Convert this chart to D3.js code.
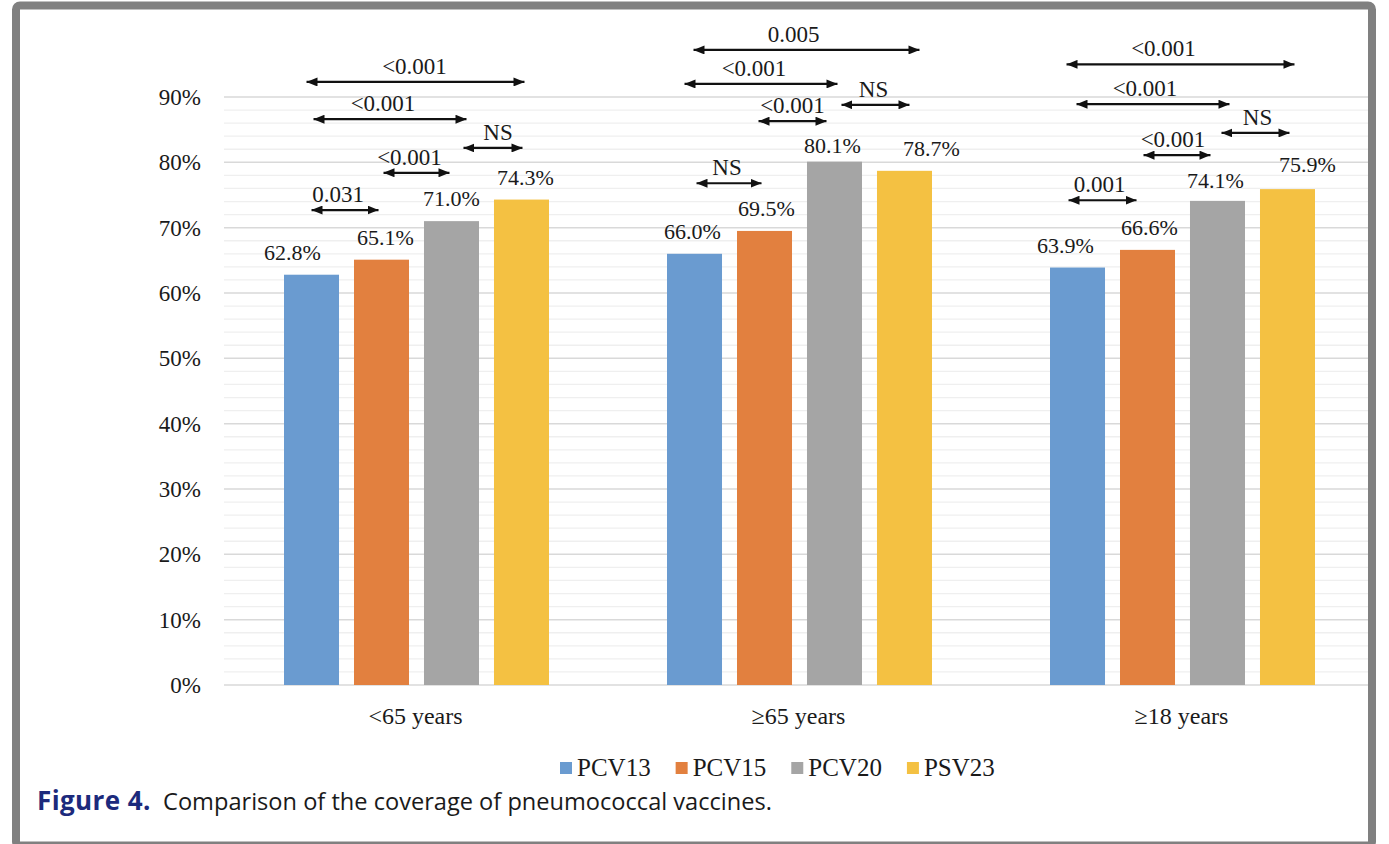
<!DOCTYPE html>
<html>
<head>
<meta charset="utf-8">
<script src="https://cdn.jsdelivr.net/npm/d3@7"></script>
<style>
  html, body { margin: 0; padding: 0; background: #fff; }
  svg { display: block; }
  text { font-family: "Liberation Serif", "Times New Roman", serif; fill: #1a1a1a; }
</style>
</head>
<body>
<svg id="chart" width="1389" height="844"></svg>
<script>
// Age groups on the x axis
const groups = ["<65 years", "\u226565 years", "\u226518 years"];
// Vaccines (one bar per vaccine in each group)
const vaccines = ["PCV13", "PCV15", "PCV20", "PSV23"];
// Coverage (%) per group, in vaccine order
const coverageU65 = [62.8, 65.1, 71.0, 74.3];
const coverage65  = [66.0, 69.5, 80.1, 78.7];
const coverage18  = [63.9, 66.6, 74.1, 75.9];
// Y axis ticks (%)
const yTicks = [0, 10, 20, 30, 40, 50, 60, 70, 80, 90];
// Pairwise comparisons: two vaccines, p-value text, bracket height (%)
const compU65 = [
  ["PCV13", "PSV23", "<0.001", 92.3],
  ["PCV13", "PCV20", "<0.001", 86.6],
  ["PCV20", "PSV23", "NS", 82.2],
  ["PCV15", "PCV20", "<0.001", 78.4],
  ["PCV13", "PCV15", "0.031", 72.7]
];
const comp65 = [
  ["PCV13", "PSV23", "0.005", 97.2],
  ["PCV13", "PCV20", "<0.001", 92.0],
  ["PCV20", "PSV23", "NS", 88.8],
  ["PCV15", "PCV20", "<0.001", 86.3],
  ["PCV13", "PCV15", "NS", 76.8]
];
const comp18 = [
  ["PCV13", "PSV23", "<0.001", 95.0],
  ["PCV13", "PCV20", "<0.001", 88.9],
  ["PCV20", "PSV23", "NS", 84.5],
  ["PCV15", "PCV20", "<0.001", 81.1],
  ["PCV13", "PCV15", "0.001", 74.2]
];

const colors = { PCV13: "#6a9bd0", PCV15: "#e2803f", PCV20: "#a5a5a5", PSV23: "#f4c142" };

const coverage = [coverageU65, coverage65, coverage18];
const comparisons = [compU65, comp65, comp18];

// Hand-placed tweaks for the annotation layer (pixels):
// arrow ends [start dx, end dx, label dx] per comparison, same order as above
const arrowNudge = [
  [[-5, 3, -1], [2, 15, -7], [12, 1, 5], [2, -2, -7], [0, -3, -7]],
  [[-1, 15, -13], [-10, 3, -7], [7, 5, -2], [-6, -8, 0], [2, -3, -2]],
  [[-11, 7, -17], [-1, 12, -8], [4, 2, 2], [-4, -7, -4], [-9, -11, -3]]
];
// value-label offsets [dx, dy] per bar
const labelNudge = [
  [[-19, 0], [4, 0], [0, 0], [4, 0]],
  [[-2, 0], [2, 0], [-2, 6], [27, 0]],
  [[-12, 0], [2, 0], [-2, 2], [20, -2]]
];

const svg = d3.select("#chart");

// Outer frame
svg.append("rect")
  .attr("x", 16).attr("y", 5.5)
  .attr("width", 1356).attr("height", 840)
  .attr("rx", 4)
  .attr("fill", "#fff")
  .attr("stroke", "#808080")
  .attr("stroke-width", 8);

const plot = { left: 224, right: 1373, top: 97, bottom: 685 };

const y = d3.scaleLinear().domain([0, 90]).range([plot.bottom, plot.top]);
const x0 = d3.scaleBand().domain(groups).range([plot.left, plot.right]);
const x1 = d3.scaleBand().domain(vaccines).range([60, 325]).paddingInner(0.214);

// Gridlines: minor every 2%, major at each tick
const grid = svg.append("g");
grid.selectAll("line.minor")
  .data(d3.range(0, 91, 2).filter(v => v % 10 !== 0))
  .join("line")
  .attr("class", "minor")
  .attr("x1", plot.left).attr("x2", 1368)
  .attr("y1", d => y(d)).attr("y2", d => y(d))
  .attr("stroke", "#efefef").attr("stroke-width", 1.3);
grid.selectAll("line.major")
  .data(yTicks)
  .join("line")
  .attr("class", "major")
  .attr("x1", plot.left).attr("x2", 1368)
  .attr("y1", d => y(d)).attr("y2", d => y(d))
  .attr("stroke", "#d9d9d9").attr("stroke-width", 1.5);

// Y axis labels
const yAxis = d3.axisLeft(y).tickValues(yTicks).tickFormat(d => d + "%").tickSize(0).tickPadding(0);
const yg = svg.append("g").attr("transform", "translate(201,0)").call(yAxis);
yg.select(".domain").remove();
yg.selectAll("text")
  .attr("font-family", "'Liberation Serif', serif")
  .attr("font-size", 23)
  .attr("fill", "#1a1a1a")
  .attr("dy", "0.33em");

// X axis labels
const xAxis = d3.axisBottom(x0).tickSize(0).tickPadding(0);
const xg = svg.append("g").attr("transform", `translate(0,${plot.bottom})`).call(xAxis);
xg.select(".domain").remove();
xg.selectAll("text")
  .attr("font-family", "'Liberation Serif', serif")
  .attr("font-size", 24)
  .attr("fill", "#1a1a1a")
  .attr("y", 39).attr("dy", 0);

// Bars and value labels
const barData = groups.flatMap((g, gi) =>
  vaccines.map((v, vi) => ({ group: g, vaccine: v, value: coverage[gi][vi], nudge: labelNudge[gi][vi] })));

const bars = svg.append("g");
bars.selectAll("rect")
  .data(barData)
  .join("rect")
  .attr("x", d => x0(d.group) + x1(d.vaccine))
  .attr("y", d => y(d.value))
  .attr("width", x1.bandwidth())
  .attr("height", d => y(0) - y(d.value))
  .attr("fill", d => colors[d.vaccine]);

bars.selectAll("text")
  .data(barData)
  .join("text")
  .attr("x", d => x0(d.group) + x1(d.vaccine) + x1.bandwidth() / 2 + d.nudge[0])
  .attr("y", d => y(d.value) - 15 + d.nudge[1])
  .attr("text-anchor", "middle")
  .attr("font-size", 22)
  .text(d => d.value.toFixed(1) + "%");

// Double-headed arrows with p-values
const defs = svg.append("defs");
["start", "end"].forEach(k => {
  defs.append("marker")
    .attr("id", "arrow-" + k)
    .attr("viewBox", "0 0 11 9")
    .attr("refX", k === "end" ? 11 : 0).attr("refY", 4.5)
    .attr("markerWidth", 11).attr("markerHeight", 9)
    .attr("markerUnits", "userSpaceOnUse")
    .attr("orient", "auto")
    .append("path")
    .attr("d", k === "end" ? "M0,0 L11,4.5 L0,9 Z" : "M11,0 L0,4.5 L11,9 Z")
    .attr("fill", "#111");
});

const center = (g, v) => x0(g) + x1(v) + x1.bandwidth() / 2;

const compData = groups.flatMap((g, gi) =>
  comparisons[gi].map((c, ci) => {
    const n = arrowNudge[gi][ci];
    const xa = center(g, c[0]) + n[0];
    const xb = center(g, c[1]) + n[1];
    return { xa, xb, xl: (xa + xb) / 2 + n[2], label: c[2], level: c[3] };
  }));

const ann = svg.append("g");
ann.selectAll("line")
  .data(compData)
  .join("line")
  .attr("x1", d => d.xa)
  .attr("x2", d => d.xb)
  .attr("y1", d => y(d.level)).attr("y2", d => y(d.level))
  .attr("stroke", "#111").attr("stroke-width", 2.2)
  .attr("marker-start", "url(#arrow-start)")
  .attr("marker-end", "url(#arrow-end)");

ann.selectAll("text")
  .data(compData)
  .join("text")
  .attr("x", d => d.xl)
  .attr("y", d => y(d.level) - 8)
  .attr("text-anchor", "middle")
  .attr("font-size", 23)
  .text(d => d.label);

// Legend
const legend = svg.append("g").attr("transform", "translate(560,768)");
let lx = 0;
vaccines.forEach(v => {
  const item = legend.append("g").attr("transform", `translate(${lx},0)`);
  item.append("rect").attr("x", 0).attr("y", -6).attr("width", 12).attr("height", 12).attr("fill", colors[v]);
  const t = item.append("text").attr("x", 17).attr("y", 8).attr("font-size", 25).text(v);
  lx += 17 + t.node().getComputedTextLength() + 25;
});

// Caption
const cap = svg.append("text")
  .attr("x", 37).attr("y", 810)
  .style("font-family", "'Open Sans', 'Noto Sans', sans-serif")
  .attr("font-size", 23.6);
cap.append("tspan").attr("font-weight", "bold").attr("fill", "#1c2a7c")
  .attr("font-size", 26).attr("letter-spacing", 0.4).text("Figure 4.");
cap.append("tspan").attr("fill", "#1a1a1a").text("\u00a0 Comparison of the coverage of pneumococcal vaccines.");
</script>
</body>
</html>
